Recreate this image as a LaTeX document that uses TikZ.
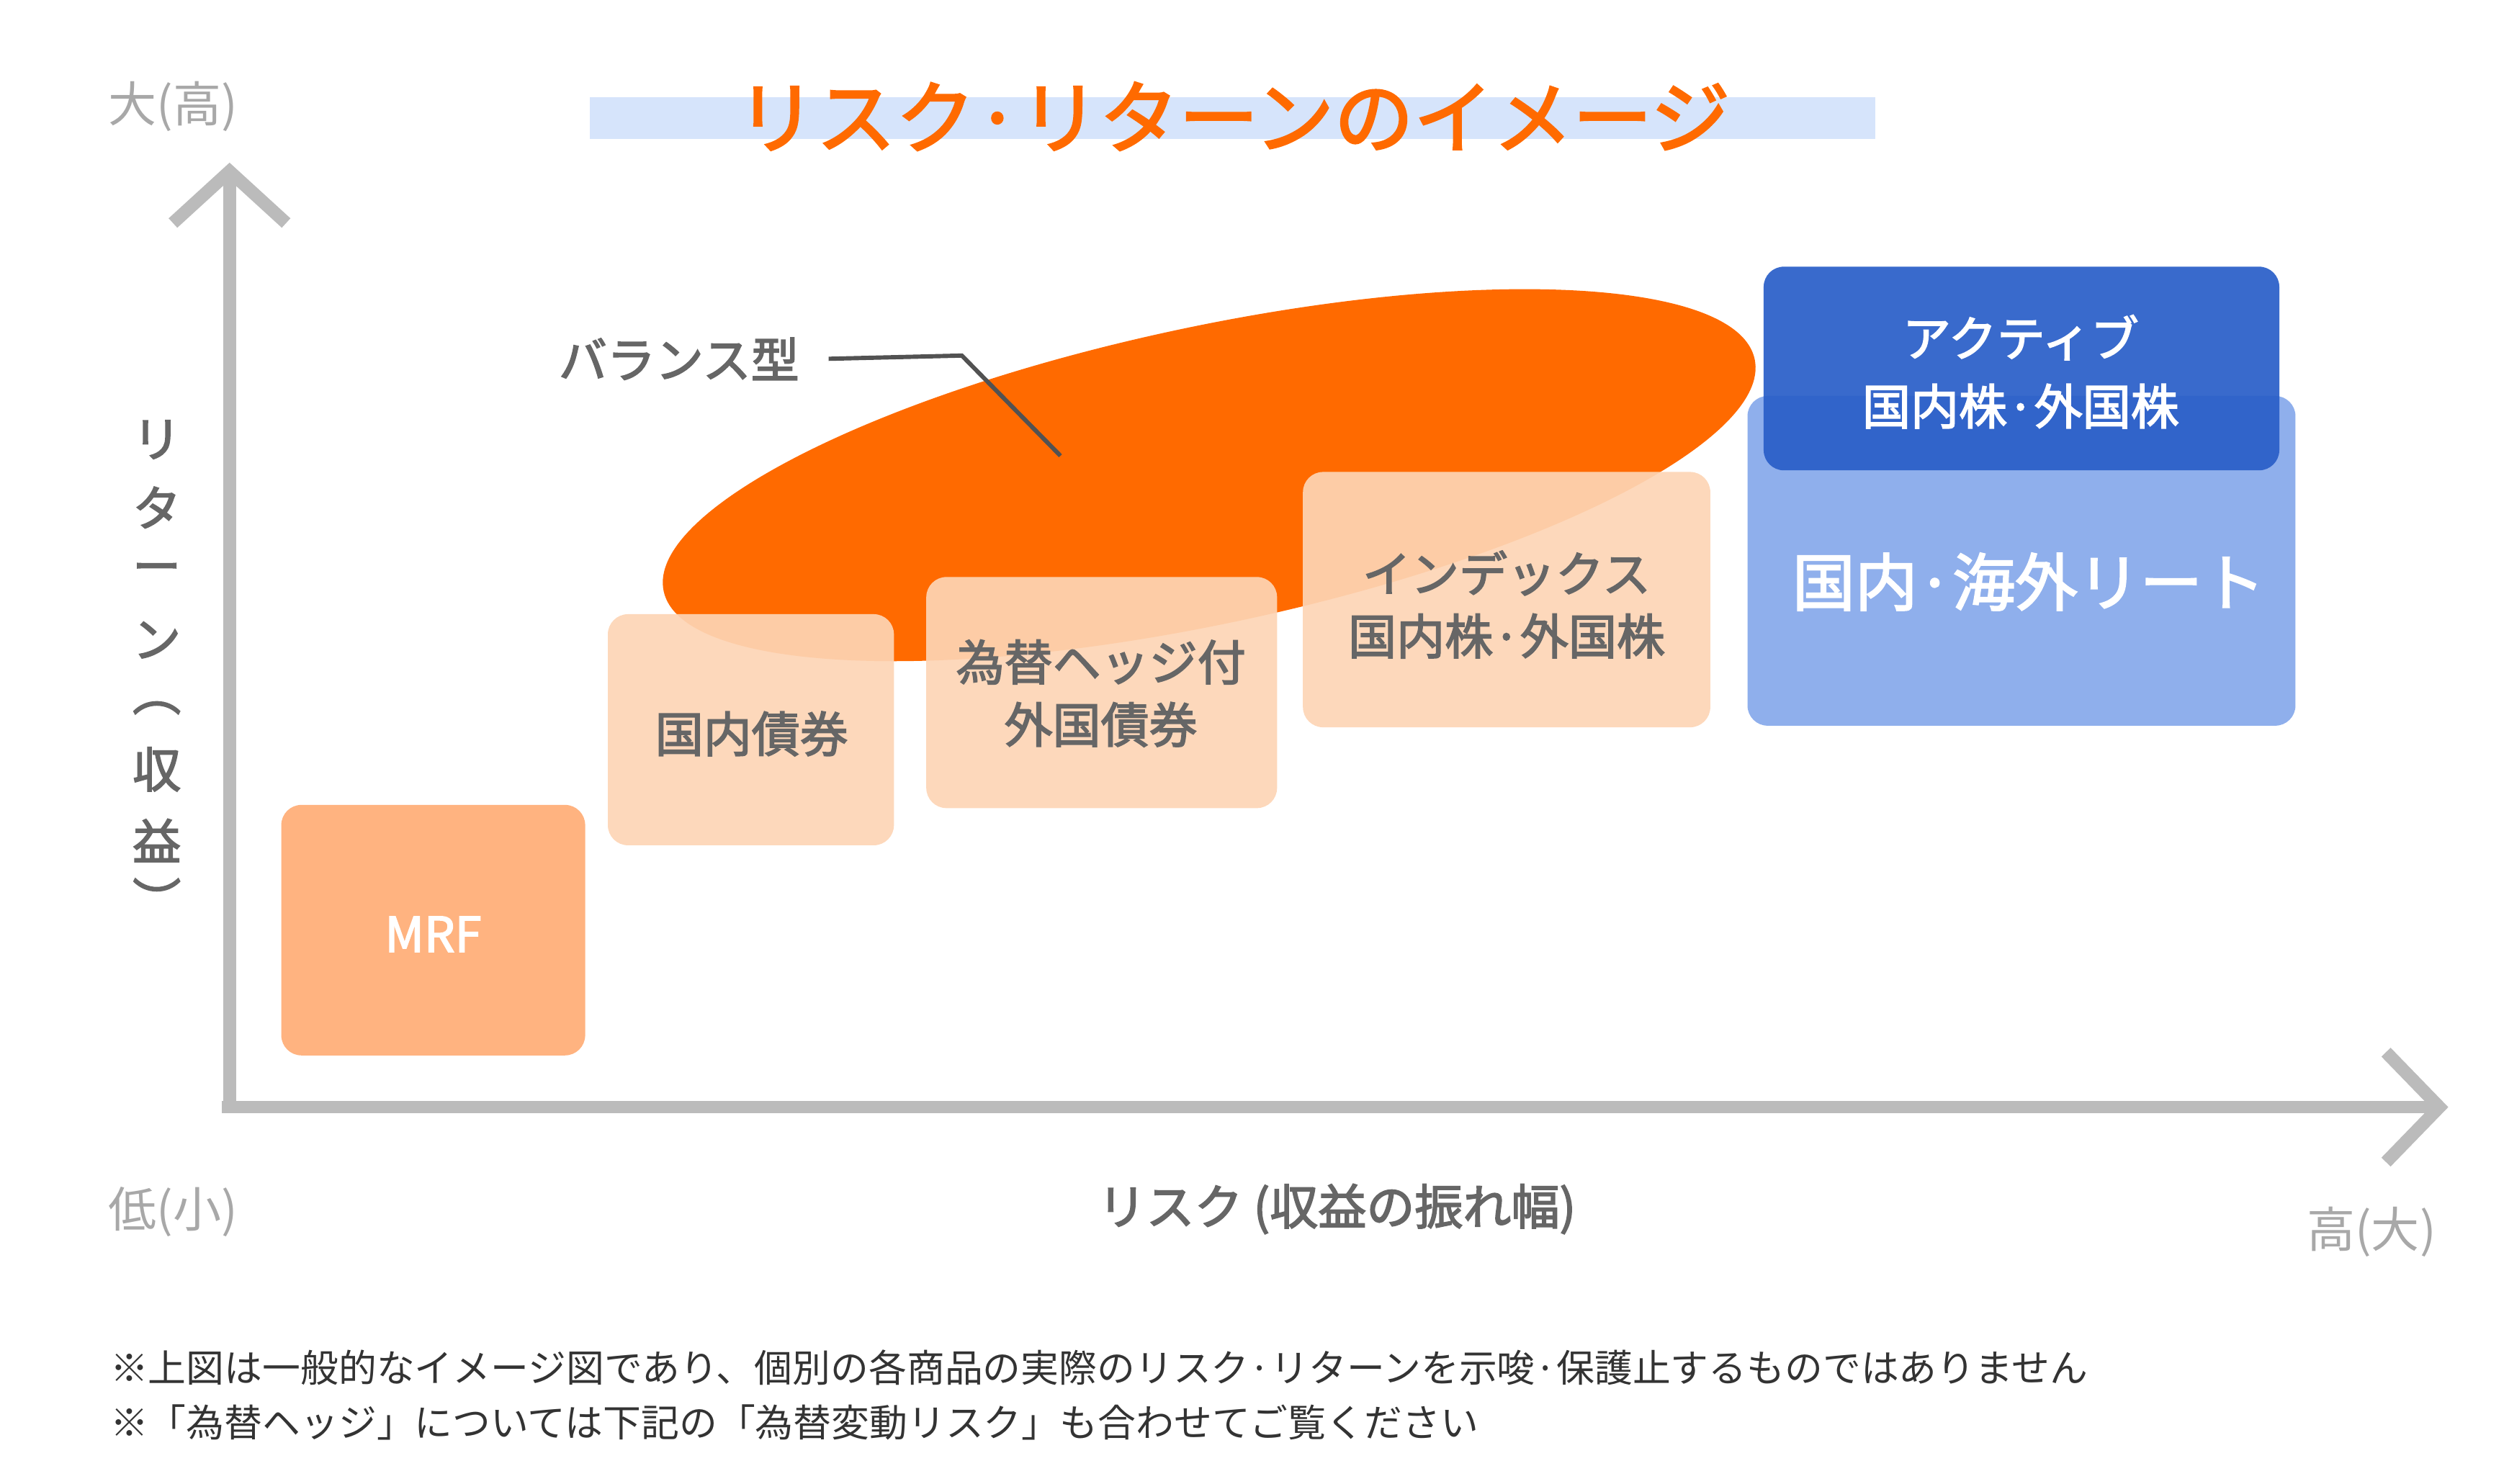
\documentclass[tikz,border=0pt]{standalone}
\usepackage{fontspec}
\setmainfont{Noto Sans CJK JP}
\newfontfamily\bjp{Noto Sans CJK JP}[FakeBold=2.5]
\definecolor{axisgray}{HTML}{BBBBBB}
\definecolor{txtgray}{HTML}{666666}
\definecolor{lightgray}{HTML}{A8A8A8}
\definecolor{orng}{HTML}{FF6A00}
\definecolor{peach}{HTML}{FDD5B5}
\definecolor{mrf}{HTML}{FFB380}
\definecolor{lblue}{HTML}{8FAFEC}
\definecolor{dblue}{HTML}{2A5FC8}
\definecolor{band}{HTML}{D6E4FB}
\begin{document}
\begin{tikzpicture}[x=0.02cm,y=-0.02cm,
  box/.style={rounded corners=0.25cm,draw=none},
  btxt/.style={font=\bjp\fontsize{17}{22}\selectfont,text=txtgray,align=center},
  wtxt/.style={font=\bjp\fontsize{17}{24}\selectfont,text=white,align=center},
  axl/.style={font=\fontsize{17}{20}\selectfont,text=lightgray},
  ylt/.style={font=\bjp\fontsize{17}{20}\selectfont,text=txtgray,inner sep=0},
  ax/.style={draw=axisgray,line width=4.5pt}]
\useasboundingbox (0,0) rectangle (1549,918);
% title
\fill[band] (365,60) rectangle (1160,86);
\node[font=\bjp\fontsize{28}{32}\selectfont,text=orng] (title) at (763,72) {リスク·リターンのイメージ};
% axes
\coordinate (ytop) at (142,106);
\coordinate (xend) at (1509,685);
\draw[ax] (142,688) -- (ytop);
\draw[ax,line join=miter] (107,138) -- (ytop) -- (177,138);
\draw[ax] (137,685) -- (xend);
\draw[ax,line join=miter] (1476,651) -- (xend) -- (1476,719);
\node[axl] (ybig) at (107,66) {大(高)};
\node[axl] (ysmall) at (107,750) {低(小)};
\node[axl] (xbig) at (1467,762) {高(大)};
\node[font=\bjp\fontsize{17}{20}\selectfont,text=txtgray] (xlab) at (827,748) {リスク (収益の振れ幅)};
\node[ylt] (y1) at (97,272) {リ};
\node[ylt] (y2) at (97,314) {タ};
\node[ylt] (y3) at (97,355) {ー};
\node[ylt] (y4) at (97,396) {ン};
\node[ylt] (y5) at (97,438) {︵};
\node[ylt] (y6) at (97,476) {収};
\node[ylt] (y7) at (97,520) {益};
\node[ylt] (y8) at (97,556) {︶};
% ellipse
\fill[orng] (748,294) ellipse [x radius=345, y radius=92, rotate=12];
% boxes
\fill[box,mrf] (174,498) rectangle (362,653);
\node[wtxt] (mrfT) at (268,578) {MRF};
\fill[box,peach,opacity=0.92] (376,380) rectangle (553,523);
\node[btxt] (kb) at (465,454) {国内債券};
\fill[box,peach,opacity=0.92] (573,357) rectangle (790,500);
\node[btxt] (hb) at (681,429) {為替ヘッジ付\\外国債券};
\fill[box,peach,opacity=0.92] (806,292) rectangle (1058,450);
\node[btxt] (idx) at (932,374) {インデックス\\国内株·外国株};
\fill[box,lblue] (1081,245) rectangle (1420,449);
\node[font=\bjp\fontsize{22}{26}\selectfont,text=white] (reit) at (1255,360) {国内·海外リート};
\fill[box,dblue,opacity=0.93] (1091,165) rectangle (1410,291);
\node[wtxt] (act) at (1250,230) {アクティブ\\国内株·外国株};
% balance label
\node[btxt] (bal) at (420,222) {バランス型};
\coordinate (bend) at (595,220);
\coordinate (tip) at (656,282);
\draw[txtgray!80!black,line width=1.5pt] (bal.east)+(12,0) -- (bend) -- (tip);
% footnotes
\node[anchor=west,font=\fontsize{13.4}{16}\selectfont,text=black!80] (n1) at (62,846) {※上図は一般的なイメージ図であり、個別の各商品の実際のリスク·リターンを示唆·保護止するものではありません};
\node[anchor=west,font=\fontsize{13.4}{16}\selectfont,text=black!80] (n2) at (62,880) {※「為替ヘッジ」については下記の「為替変動リスク」も合わせてご覧ください};
\end{tikzpicture}
\end{document}
